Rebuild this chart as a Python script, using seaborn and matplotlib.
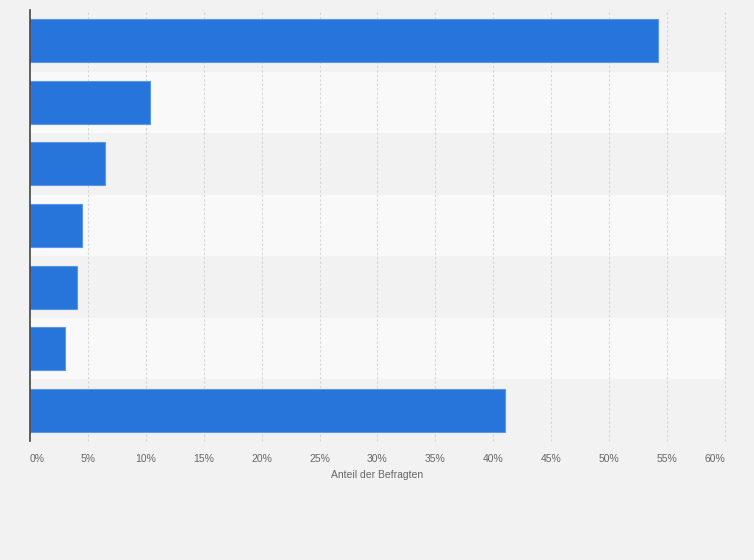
import matplotlib
matplotlib.use("Agg")
import matplotlib.pyplot as plt
import seaborn as sns
import pandas as pd
from matplotlib.ticker import FixedLocator

categories = ["Kategorie 1", "Kategorie 2", "Kategorie 3", "Kategorie 4",
              "Kategorie 5", "Kategorie 6", "Kategorie 7"]
values = [54.2, 10.4, 6.5, 4.5, 4.1, 3.0, 41.0]
tick_values = [0, 5, 10, 15, 20, 25, 30, 35, 40, 45, 50, 55, 60]
tick_labels = [f"{v}%" for v in tick_values]
x_label = "Anteil der Befragten"

df = pd.DataFrame({"Kategorie": categories, "Anteil": values})

sns.set_theme(style="white")
plt.rcParams['font.family'] = ['Liberation Sans', 'DejaVu Sans']

fig = plt.figure(figsize=(7.54, 5.6), dpi=100, facecolor="#f2f2f2")
ax = fig.add_axes([30/754, 1-441/560, 695/754, 431/560])
ax.set_facecolor("#f2f2f2")

# alternating row bands
for i in range(len(categories)):
    if i % 2 == 1:
        ax.axhspan(i - 0.5, i + 0.5, color="#f9f9f9", zorder=0, lw=0)

sns.barplot(data=df, x="Anteil", y="Kategorie", orient="h", ax=ax,
            color="#2775db", saturation=1, width=0.7,
            edgecolor="#5b97e6", linewidth=0.8, zorder=3)

ax.set_xlim(0, 60)
ax.set_ylim(len(categories) - 0.5, -0.5)
ax.xaxis.set_major_locator(FixedLocator(tick_values))
ax.set_xticklabels(tick_labels)
for v in tick_values[1:]:
    ax.axvline(v, color="#d5d5d5", lw=0.8, ls=(0, (2, 2)), zorder=1, clip_on=False)

for s in ["top", "right", "bottom"]:
    ax.spines[s].set_visible(False)
ax.spines["left"].set_color("#444444")
ax.spines["left"].set_linewidth(1.2)
ax.spines["left"].set_zorder(5)

ax.set_yticks([])
ax.set_ylabel("")
ax.tick_params(axis="x", length=0, pad=9, labelsize=7.5, labelcolor="#666666")
labels = ax.get_xticklabels()
labels[0].set_horizontalalignment("left")
labels[-1].set_horizontalalignment("right")
ax.set_xlabel(x_label, fontsize=7.5, color="#666666", labelpad=5)

fig.savefig("out.png", dpi=100, facecolor=fig.get_facecolor())
